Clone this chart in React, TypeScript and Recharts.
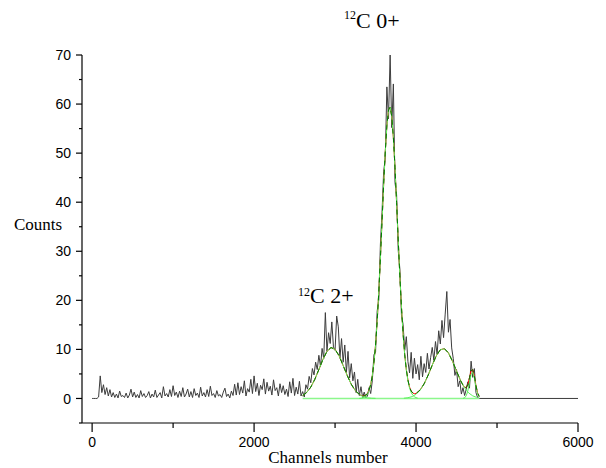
import React from 'react';
import { LineChart, Line, XAxis, YAxis } from 'recharts';

// Measured counts, one value every 20 channels from channel 0 to 4780
const countStep = 20;
const counts = [
  0, 0, 0, 0, 0.3, 4.6, 1.2, 2.8, 0.8, 2.2,
  0.5, 1.8, 0.3, 1.2, 0.2, 0.9, 0.1, 1.5, 0.4, 0.6,
  0.2, 1.1, 0.1, 0.7, 1.9, 0.3, 1.3, 0.2, 0.8, 0.1,
  1.6, 0.4, 1.0, 0.2, 0.6, 1.4, 0.1, 0.9, 0.3, 1.7,
  0.2, 0.7, 1.2, 0.1, 2.4, 0.5, 1.0, 0.3, 1.8, 0.4,
  2.6, 0.6, 1.3, 0.2, 1.5, 0.4, 2.2, 0.3, 0.9, 1.9,
  0.3, 1.4, 0.2, 2.0, 0.6, 1.1, 0.2, 2.3, 0.5, 1.2,
  0.3, 1.8, 0.4, 2.5, 0.6, 1.0, 0.2, 1.6, 0.5, 0.8,
  0.2, 1.3, 2.1, 0.4, 0.9, 0.1, 1.5, 0.6, 2.9, 0.7,
  3.2, 0.8, 2.4, 1.1, 3.6, 0.5, 2.0, 1.3, 3.9, 1.0,
  4.6, 1.4, 3.1, 0.6, 2.7, 1.8, 4.0, 0.9, 3.3, 1.5,
  2.5, 0.7, 3.8, 1.6, 2.2, 0.5, 3.0, 1.2, 2.6, 0.8,
  1.9, 0.4, 3.4, 1.1, 4.1, 0.6, 2.3, 0.9, 3.5, 0.5,
  1.4, 0.3, 2.8, 1.9, 4.5, 3.2, 6.1, 4.8, 7.4, 5.9,
  8.8, 6.5, 10.2, 8.1, 17.5, 9.6, 13.4, 11.2, 15.6, 10.5,
  9.8, 16.8, 14.6, 8.2, 12.2, 7.4, 10.9, 5.3, 9.6, 4.2,
  7.1, 3.6, 5.4, 1.2, 3.9, 0.6, 2.4, 0.2, 1.3, 0.1,
  0.5, 2.2, 1.0, 3.6, 8.9, 9.5, 17.8, 20.1, 31.5, 37.9,
  46.2, 49.0, 63.5, 57.0, 70.0, 55.2, 64.1, 44.0, 41.5, 30.2,
  26.4, 17.0, 15.1, 9.8, 12.6, 7.5, 5.2, 9.4, 4.1, 8.2,
  5.0, 6.9, 3.8, 8.6, 4.4, 7.1, 5.3, 9.2, 6.0, 8.3,
  10.4, 7.8, 11.6, 9.0, 13.8, 11.1, 15.9, 12.4, 17.2, 21.8,
  13.5, 16.1, 10.3, 8.1, 4.7, 5.9, 2.4, 3.6, 0.9, 2.2,
  0.6, 1.9, 3.4, 2.1, 7.6, 4.3, 6.1, 1.2, 0.2, 0,
];
const lastChannel = 6000;

// Fitted Gaussian components (channel, value)
const peak1Channels = [2600, 2650, 2700, 2750, 2800, 2850, 2900, 2950, 3000, 3050, 3100, 3150, 3200, 3250, 3300, 3350, 3400, 3450, 3500];
const peak1Values = [0.58, 1.23, 2.31, 3.9, 5.9, 7.95, 9.6, 10.38, 10.0, 8.7, 6.7, 4.7, 2.9, 1.6, 0.8, 0.35, 0.14, 0.05, 0.02];

const peak2Channels = [3300, 3320, 3340, 3360, 3380, 3400, 3420, 3440, 3460, 3480, 3500, 3520, 3540, 3560, 3580, 3600, 3620, 3640, 3660, 3680, 3700, 3720, 3740, 3760, 3780, 3800, 3820, 3840, 3860, 3880, 3900, 3920, 3940, 3960, 3980, 4000, 4020];
const peak2Values = [0.02, 0.055, 0.12, 0.24, 0.48, 0.9, 1.6, 2.8, 4.6, 7.3, 10.9, 15.7, 21.7, 28.6, 36.1, 43.6, 50.3, 55.6, 58.8, 59.4, 57.5, 53.2, 47.1, 39.9, 32.3, 25.0, 18.6, 13.2, 8.9, 5.8, 3.6, 2.1, 1.2, 0.66, 0.35, 0.17, 0.08];

const peak3Channels = [3850, 3900, 3950, 4000, 4050, 4100, 4150, 4200, 4250, 4300, 4350, 4400, 4450, 4500, 4550, 4600, 4650, 4700, 4750];
const peak3Values = [0.05, 0.15, 0.38, 0.84, 1.68, 2.99, 4.77, 6.8, 8.69, 9.93, 10.15, 9.29, 7.6, 5.57, 3.65, 2.14, 1.12, 0.53, 0.22];

const peak4Channels = [4580, 4600, 4620, 4640, 4660, 4680, 4700, 4720, 4740, 4760, 4780];
const peak4Values = [0.02, 0.14, 0.55, 1.57, 3.28, 4.93, 5.35, 4.19, 2.36, 0.96, 0.28];

const baselineChannels = [2600, 4780];
const baselineValues = [0, 0];

// Cumulative fit
const fitChannels = [2600, 2650, 2700, 2750, 2800, 2850, 2900, 2950, 3000, 3050, 3100, 3150, 3200, 3250, 3300,
  3320, 3340, 3360, 3380, 3400, 3420, 3440, 3460, 3480, 3500, 3520, 3540, 3560, 3580, 3600, 3620, 3640, 3660, 3680, 3700,
  3720, 3740, 3760, 3780, 3800, 3820, 3840, 3860, 3880, 3900, 3920, 3940, 3960, 3980, 4000,
  4050, 4100, 4150, 4200, 4250, 4300, 4350, 4400, 4450, 4500, 4550,
  4580, 4600, 4620, 4640, 4660, 4680, 4700, 4720, 4740, 4760, 4780];
const fitTotal = [0.58, 1.23, 2.31, 3.9, 5.9, 7.95, 9.6, 10.38, 10.0, 8.7, 6.7, 4.7, 2.9, 1.6, 0.82,
  0.64, 0.54, 0.54, 0.69, 1.04, 1.69, 2.86, 4.64, 7.33, 10.9, 15.7, 21.7, 28.6, 36.1, 43.6, 50.3, 55.6, 58.8, 59.4, 57.5,
  53.2, 47.1, 39.9, 32.3, 25.0, 18.6, 13.24, 8.97, 5.9, 3.75, 2.32, 1.52, 1.11, 0.97, 1.01,
  1.73, 2.99, 4.77, 6.8, 8.69, 9.93, 10.15, 9.29, 7.6, 5.57, 3.65,
  2.71, 2.28, 2.23, 2.86, 4.26, 5.65, 5.88, 4.57, 2.63, 1.14, 0.41];

const xTicks = [0, 1000, 2000, 3000, 4000, 5000, 6000];
const xMajor = [0, 2000, 4000, 6000];
const yTicks = [-5, 0, 5, 10, 15, 20, 25, 30, 35, 40, 45, 50, 55, 60, 65, 70];
const yMajor = [0, 10, 20, 30, 40, 50, 60, 70];

const zip = (xs: number[], ys: number[]) => xs.map((x, i) => ({ x, y: ys[i] }));

const spectrum = [
  ...counts.map((y, i) => ({ x: i * countStep, y })),
  { x: lastChannel, y: 0 },
];

const SANS = "'Liberation Sans', Arial, sans-serif";
const SERIF = "'Liberation Serif', 'Times New Roman', serif";

const renderYTick = (props: any) => {
  const { x, y, payload } = props;
  const v = payload.value;
  if (!yMajor.includes(v)) return <g />;
  return (
    <g>
      <line x1={x + 5} x2={x + 8} y1={y} y2={y} stroke="#000" strokeWidth={1.2} />
      <text x={x} y={y} dy="0.36em" textAnchor="end" fontSize={14} fontFamily={SANS} fill="#000">{v}</text>
    </g>
  );
};

const renderXTick = (props: any) => {
  const { x, y, payload } = props;
  const v = payload.value;
  if (!xMajor.includes(v)) return <g />;
  return (
    <g>
      <line x1={x} x2={x} y1={y - 9} y2={y - 5} stroke="#000" strokeWidth={1.2} />
      <text x={x} y={y} dy="0.71em" textAnchor="middle" fontSize={14} fontFamily={SANS} fill="#000">{v}</text>
    </g>
  );
};

const LIGHT_GREEN = '#5cf25c';

export default function App() {
  return (
    <div style={{ position: 'absolute', left: 0, top: 0, width: 606, height: 468, background: '#fff' }}>
      <LineChart width={606} height={468} margin={{ top: 55, right: 28, bottom: 0, left: 22 }}>
        <XAxis
          dataKey="x"
          type="number"
          domain={[-125, 6000]}
          ticks={xTicks}
          allowDataOverflow
          height={45}
          stroke="#000"
          axisLine={{ stroke: '#000', strokeWidth: 1.2 }}
          tickLine={{ stroke: '#000', strokeWidth: 1.2 }}
          tickSize={5}
          tickMargin={9}
          tick={renderXTick}
          interval={0}
        />
        <YAxis
          type="number"
          domain={[-5, 70]}
          ticks={yTicks}
          allowDataOverflow
          width={60}
          stroke="#000"
          axisLine={{ stroke: '#000', strokeWidth: 1.2 }}
          tickLine={{ stroke: '#000', strokeWidth: 1.2 }}
          tickSize={3}
          tickMargin={8}
          tick={renderYTick}
          interval={0}
        />
        <Line data={spectrum} dataKey="y" type="linear" stroke="#3c3c3c" strokeWidth={1} dot={false} isAnimationActive={false} />
        <Line data={zip(fitChannels, fitTotal)} dataKey="y" type="linear" stroke="#ff0000" strokeWidth={1} dot={false} isAnimationActive={false} />
        <Line data={zip(baselineChannels, baselineValues)} dataKey="y" type="linear" stroke="#8cf78c" strokeWidth={1.5} dot={false} isAnimationActive={false} />
        <Line data={zip(peak1Channels, peak1Values)} dataKey="y" type="linear" stroke={LIGHT_GREEN} strokeWidth={1} dot={false} isAnimationActive={false} />
        <Line data={zip(peak2Channels, peak2Values)} dataKey="y" type="linear" stroke={LIGHT_GREEN} strokeWidth={1} dot={false} isAnimationActive={false} />
        <Line data={zip(peak3Channels, peak3Values)} dataKey="y" type="linear" stroke={LIGHT_GREEN} strokeWidth={1} dot={false} isAnimationActive={false} />
        <Line data={zip(peak4Channels, peak4Values)} dataKey="y" type="linear" stroke={LIGHT_GREEN} strokeWidth={1} dot={false} isAnimationActive={false} />
        <Line data={zip(fitChannels, fitTotal)} dataKey="y" type="linear" stroke="#007a00" strokeWidth={1} strokeDasharray="5 4" dot={false} isAnimationActive={false} />
      </LineChart>
      <svg width={606} height={468} style={{ position: 'absolute', left: 0, top: 0, pointerEvents: 'none' }}>
        <text x={14} y={230} fontSize={17} fontFamily={SERIF} fill="#000">Counts</text>
        <text x={328} y={463} fontSize={17} fontFamily={SERIF} fill="#000" textAnchor="middle">Channels number</text>
        <text fontFamily={SERIF} fill="#000">
          <tspan x={344} y={19} fontSize={12}>12</tspan>
          <tspan fontSize={22} y={28}>C 0+</tspan>
        </text>
        <text fontFamily={SERIF} fill="#000">
          <tspan x={298} y={296} fontSize={12}>12</tspan>
          <tspan fontSize={22} y={303}>C 2+</tspan>
        </text>
      </svg>
    </div>
  );
}
